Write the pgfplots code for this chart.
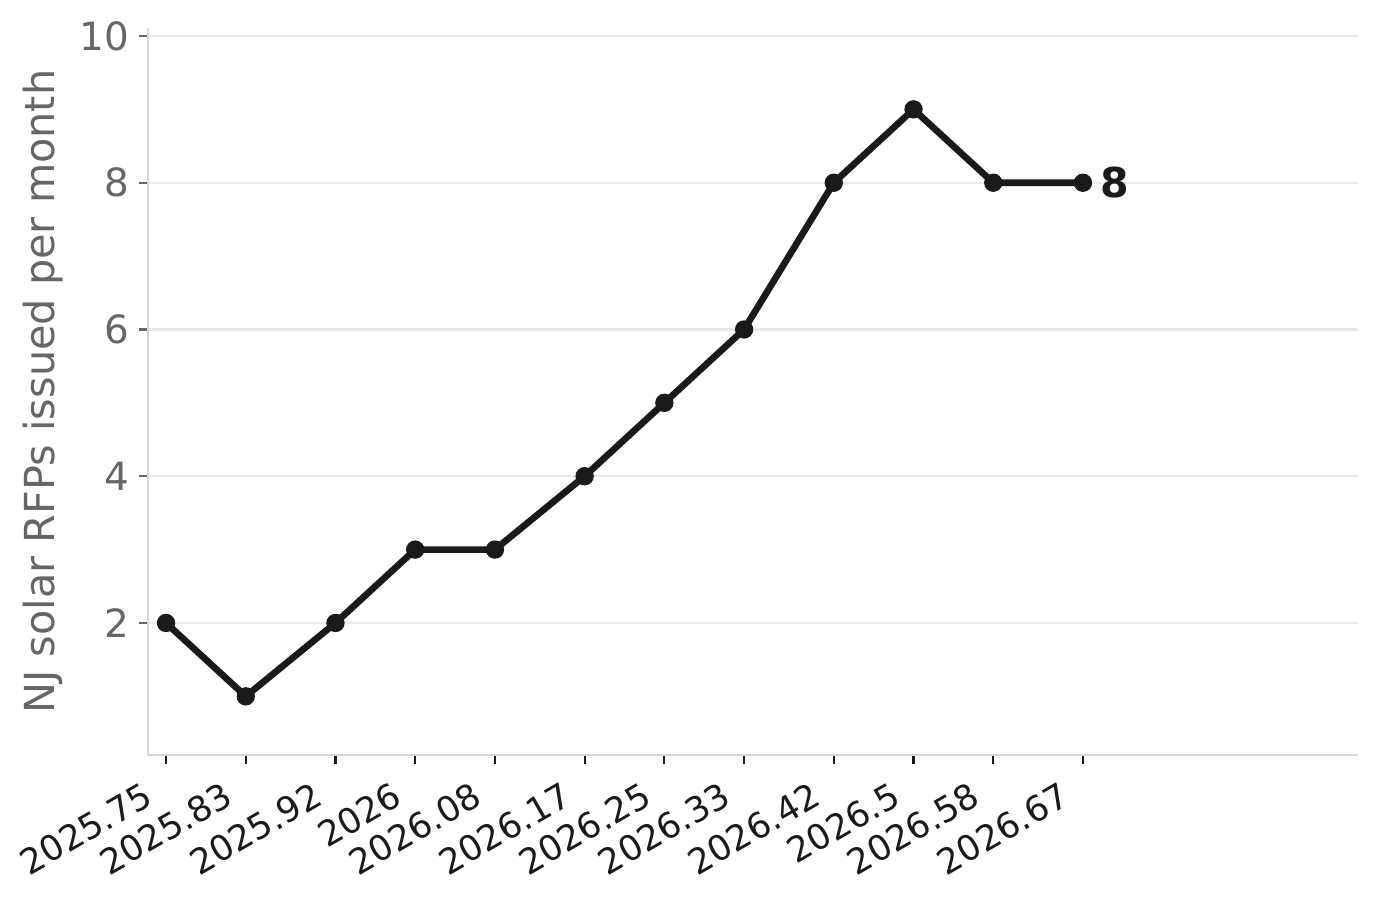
\documentclass[border=0pt]{standalone}
\usepackage{pgfplots}
\pgfplotsset{compat=1.18}
\usepackage{fontspec}
\setmainfont{DejaVu Sans}
\definecolor{lineblk}{HTML}{1A1A1A}
\definecolor{gridgray}{HTML}{E8E8E8}
\definecolor{spinegray}{HTML}{D6D6D6}
\definecolor{labelgray}{HTML}{666666}
\begin{document}
\begin{tikzpicture}
\begin{axis}[
    name=ax,
    scale only axis,
    width=435.6pt,
    height=261.7pt,
    xmin=2025.7319, xmax=2026.946,
    ymin=0.201, ymax=10.109,
    axis lines*=left,
    axis line style={spinegray, line width=0.8pt},
    ymajorgrids=true,
    grid style={gridgray, line width=0.8pt},
    xtick=data,
    xticklabels={2025.75,2025.83,2025.92,2026,2026.08,2026.17,2026.25,2026.33,2026.42,2026.5,2026.58,2026.67},
    ytick={2,4,6,8,10},
    tick align=outside,
    major tick length=3.2pt,
    xtick style={lineblk, line width=0.8pt},
    ytick style={labelgray, line width=0.8pt},
    /pgf/number format/assume math mode=true,
    xticklabel style={font=\fontsize{12.6}{15}\selectfont, text=lineblk, xshift=-8.2pt, yshift=-4.6pt, rotate=30, anchor=north east, inner sep=1pt},
    yticklabel style={font=\fontsize{14}{16}\selectfont, text=labelgray},
    ylabel={NJ solar RFPs issued per month},
    ylabel style={font=\fontsize{14.9}{17}\selectfont, text=labelgray, at={(axis description cs:-0.0618,0.5)}, anchor=south},
]
\addplot[color=lineblk, line width=2.4pt, mark=*, mark size=3.1pt, mark options={fill=lineblk, draw=lineblk, line width=0.4pt}]
    coordinates {
    (2025.75,2)(2025.83,1)(2025.92,2)(2026.00,3)(2026.08,3)(2026.17,4)
    (2026.25,5)(2026.33,6)(2026.42,8)(2026.50,9)(2026.58,8)(2026.67,8)
    };
\node[anchor=west, text=lineblk, font=\bfseries\fontsize{14.8}{17}\selectfont, xshift=5pt, inner sep=1pt] at (axis cs:2026.67,8) {8};
\end{axis}
\pgfresetboundingbox
\path[use as bounding box] (ax.south west) ++(-53.28pt,-51.84pt) rectangle ([xshift=7.2pt,yshift=10.08pt]ax.north east);
\end{tikzpicture}
\end{document}
